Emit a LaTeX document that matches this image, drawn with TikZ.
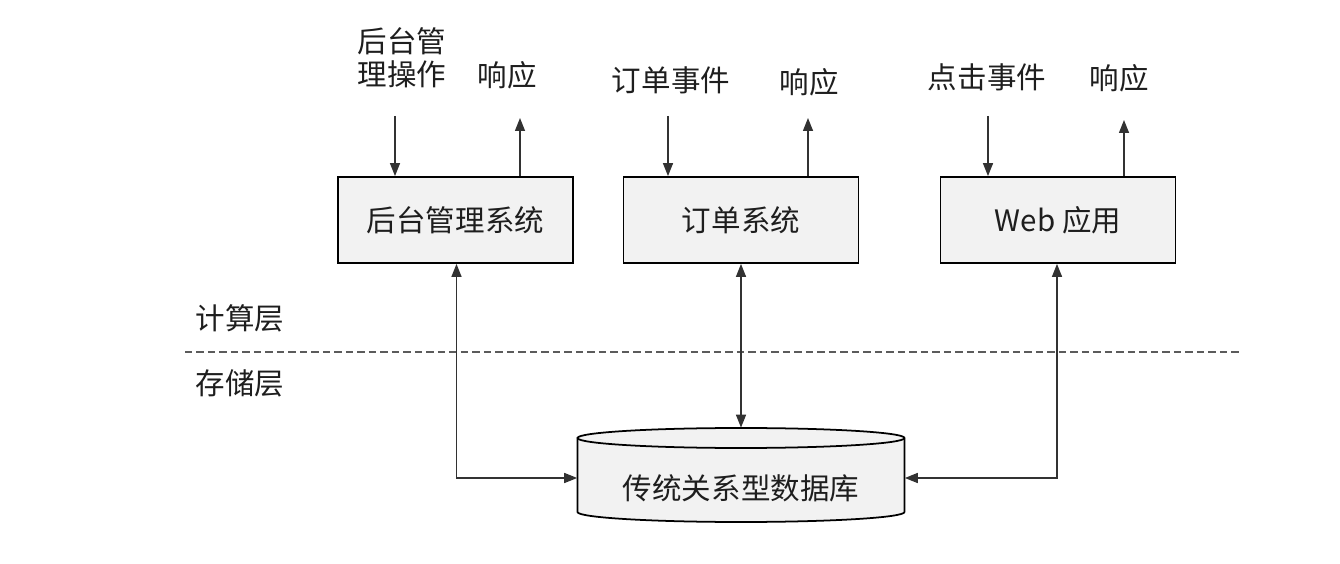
\documentclass[tikz,border=0pt]{standalone}
\usepackage{fontspec}
\setmainfont{Noto Sans CJK SC}
\usetikzlibrary{positioning, arrows.meta}
\definecolor{boxbg}{RGB}{242,242,242}
\definecolor{linecol}{RGB}{50,50,50}
\definecolor{textcol}{RGB}{30,30,30}

\begin{document}
\begin{tikzpicture}[
    x=0.02cm, y=-0.02cm,
    sysbox/.style={
        rectangle,
        draw=black,
        line width=1pt,
        fill=boxbg,
        minimum width=4.7cm,
        minimum height=1.72cm,
        text=textcol,
        font=\fontsize{16.8}{20}\selectfont
    },
    lbl/.style={
        text=textcol,
        align=center,
        inner sep=0pt,
        font=\fontsize{16.8}{19}\selectfont
    },
    flow/.style={
        draw=linecol,
        line width=0.8pt,
        -{Triangle[width=0.2cm,length=0.26cm]}
    },
    dbflow/.style={
        draw=linecol,
        line width=0.8pt,
        {Triangle[width=0.2cm,length=0.26cm]}-{Triangle[width=0.2cm,length=0.26cm]}
    }
]
\useasboundingbox (0,0) rectangle (1340,564);

% Compute layer systems
\node[sysbox] (admin) at (455.5,220) {后台管理系统};
\node[sysbox] (order) at (741,220) {订单系统};
\node[sysbox] (web) at (1058,220) {Web 应用};

% Inputs and responses
\node[lbl] (adminin) at (402,58) {后台管\\理操作};
\node[lbl] (adminout) at (507,75) {响应};
\node[lbl] (orderin) at (671,80) {订单事件};
\node[lbl] (orderout) at (809,82) {响应};
\node[lbl] (webin) at (987,77) {点击事件};
\node[lbl] (webout) at (1119,78) {响应};

\coordinate (a1) at (395,116);
\coordinate (a2) at (520,118);
\coordinate (o1) at (668,116);
\coordinate (o2) at (808,118);
\coordinate (w1) at (988,116);
\coordinate (w2) at (1124,120);

\draw[flow] (a1) -- (a1 |- admin.north);
\draw[flow] (a2 |- admin.north) -- (a2);
\draw[flow] (o1) -- (o1 |- order.north);
\draw[flow] (o2 |- order.north) -- (o2);
\draw[flow] (w1) -- (w1 |- web.north);
\draw[flow] (w2 |- web.north) -- (w2);

% Layer separator
\node[lbl, anchor=center] (compute) at (240,318) {计算层};
\node[lbl, anchor=center] (storage) at (240,383) {存储层};
\draw[linecol!80, line width=0.7pt, dash pattern=on 0.15cm off 0.08cm] (185,352) -- (1240,352);

% Database
\draw[fill=boxbg, line width=1pt] (577.5,438) -- (577.5,512)
    arc[start angle=180, end angle=360, x radius=3.27cm, y radius=0.2cm]
    -- (904.5,438)
    arc[start angle=0, end angle=180, x radius=3.27cm, y radius=0.2cm] -- cycle;
\draw[line width=1pt] (577.5,438)
    arc[start angle=180, end angle=360, x radius=3.27cm, y radius=0.2cm];
\node[minimum width=6.54cm, minimum height=1.88cm, inner sep=0pt] (db) at (741,475) {};
\node[lbl] (dbname) at (741,488) {传统关系型数据库};

% Storage connections
\draw[dbflow] (order.south) -- (db.north);
\draw[dbflow] ([xshift=0.02cm]admin.south) |- ([yshift=-0.06cm]db.west);
\draw[dbflow] ([xshift=-0.02cm]web.south) |- ([yshift=-0.06cm]db.east);

\end{tikzpicture}
\end{document}
